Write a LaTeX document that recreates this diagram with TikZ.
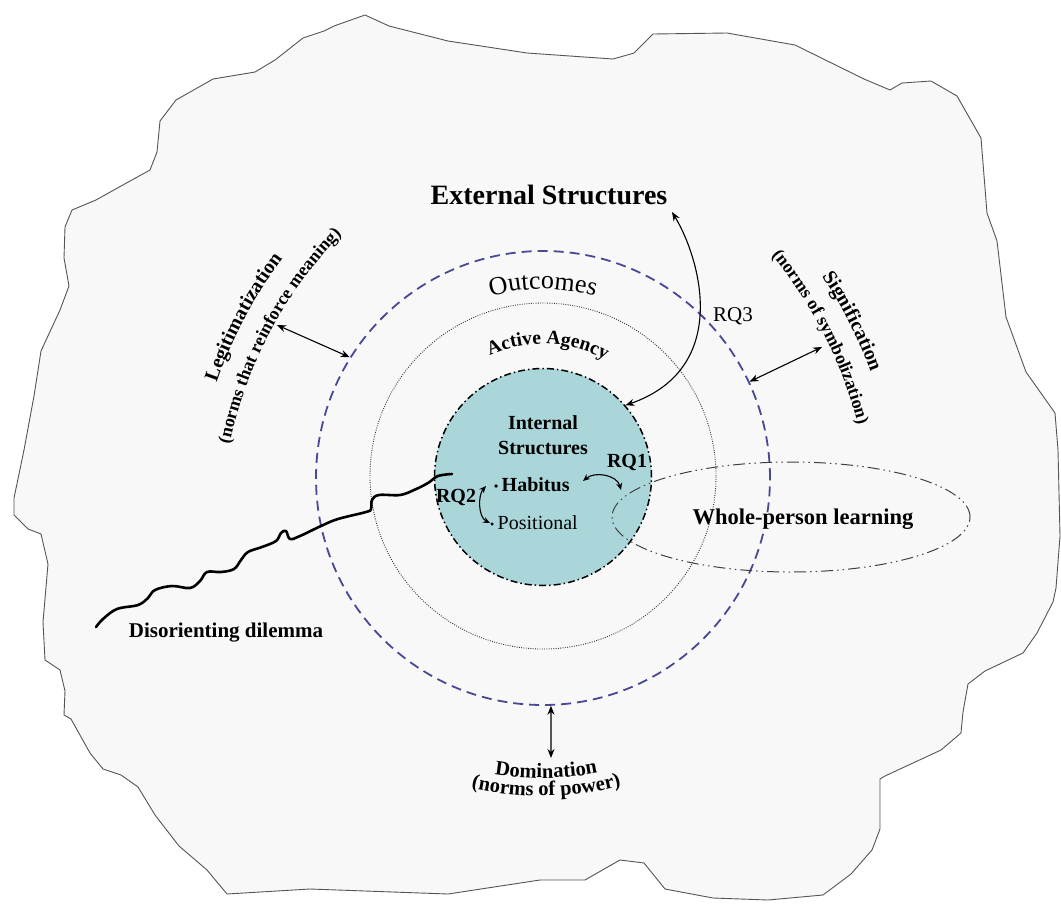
\documentclass[tikz,border=0pt]{standalone}
\usepackage{fontspec}
\setmainfont{Liberation Serif}
\usetikzlibrary{arrows.meta,shapes.geometric,decorations.text}
\definecolor{blobfill}{RGB}{248,248,248}
\definecolor{blobline}{RGB}{85,85,85}
\definecolor{tealfill}{RGB}{170,214,218}
\definecolor{outdash}{RGB}{72,72,150}
\begin{document}
\begin{tikzpicture}[x=1pt,y=-1pt,
  dbl/.style={{Stealth[length=9pt,width=7pt]}-{Stealth[length=9pt,width=7pt]}, line width=1.1pt, black},
  dbls/.style={{Stealth[length=7pt,width=6pt]}-{Stealth[length=7pt,width=6pt]}, line width=1.1pt, black},
  lbl/.style={font=\bfseries\fontsize{20}{25}\selectfont, inner sep=0pt, align=center},
  rlbl/.style={font=\fontsize{20}{25}\selectfont, inner sep=0pt, align=center},
  curved/.style={decorate, decoration={text along path, text align=center, text={#1}}}
]
\useasboundingbox (0,0) rectangle (1061,903);
% outer blob
\draw[blobline, fill=blobfill, line width=0.9pt, line join=round]
 (227,894) -- (207,870) -- (179,846) -- (155,815) -- (138,787) -- (121,775) -- (103,769) -- (90,753) -- (71,719) -- (64,715) -- (65,691) -- (60,670) -- (45,660) -- (43,622) -- (48,564) -- (41,534) -- (28,529) -- (14,515) -- (14,498) -- (24,450) -- (34,396) -- (41,351) -- (60,310) -- (69,286) -- (64,258) -- (65,227) -- (72,210) -- (96,200) -- (121,186) -- (150,170) -- (157,152) -- (160,121) -- (176,100) -- (213,79) -- (255,72) -- (275,60) -- (303,38) -- (324,31) -- (334,26) -- (365,15) -- (389,26) -- (448,41) -- (527,53) -- (613,59) -- (634,53) -- (653,34) -- (727,33) -- (795,45) -- (864,79) -- (890,90) -- (902,83) -- (931,81) -- (957,96) -- (981,138) -- (987,213) -- (997,241) -- (1006,317) -- (1026,372) -- (1055,413) -- (1058,450) -- (1060,536) -- (1056,588) -- (1053,602) -- (1037,633) -- (1023,653) -- (985,671) -- (968,684) -- (963,712) -- (961,733) -- (941,750) -- (885,776) -- (880,779) -- (880,829) -- (872,850) -- (851,874) -- (823,895) -- (768,900) -- (713,898) -- (665,889) -- (644,863) -- (620,860) -- (585,880) -- (540,880) -- (448,894) -- (310,889) -- cycle;
\coordinate (c0) at (543,478);
\coordinate (c1) at (543,476);
\coordinate (cl) at (644,530);
\coordinate (cr) at (442,530);
% circles
\node[circle, draw=outdash, line width=1.8pt, dash pattern=on 10pt off 6pt, minimum size=454pt, inner sep=0pt] (outc) at (543,478) {};
\node[circle, draw=black!80, line width=0.9pt, dash pattern=on 0.9pt off 1.4pt, minimum size=346pt, inner sep=0pt] (agency) at (543,476) {};
\node[circle, fill=tealfill, draw=black, line width=1.5pt, dash pattern=on 7pt off 3pt on 1.5pt off 3pt, minimum size=217pt, inner sep=0pt] (inner) at (543,477) {};
\node[ellipse, draw=black!75, line width=1pt, dash pattern=on 12pt off 4pt on 1.5pt off 4pt on 1.5pt off 4pt, minimum width=358pt, minimum height=110pt, inner sep=0pt] (whole) at (791,517) {};
% disorienting dilemma line
\draw[line width=2.6pt, line cap=round, line join=round] plot[smooth, tension=0.6] coordinates {(96,627) (103,619) (117,609) (138,605) (148,598) (155,590) (172,586) (190,588) (200,581) (207,572) (221,572) (234,569) (241,560) (248,552) (262,547) (276,541) (281,533) (286,531) (290,539) (300,536) (321,526) (338,519) (366,512) (371,509) (372,500) (379,495) (400,495) (414,490) (428,483) (438,476) (452,474)};
% labels
\node[lbl, font=\bfseries\fontsize{28}{32}\selectfont] (ext) at (549,195) {External Structures};
\node[lbl] (intl) at (543,435) {Internal\\Structures};
\node[lbl, anchor=west] (hab) at (494,485) {{\fontsize{12}{12}\selectfont\raisebox{1.5pt}{•}}\,Habitus};
\node[rlbl, anchor=west] (pos) at (490,523) {{\fontsize{12}{12}\selectfont\raisebox{1.5pt}{•}}\,Positional};
\node[lbl] (rq1) at (627,462) {RQ1};
\node[lbl] (rq2) at (456,497) {RQ2};
\node[rlbl, font=\fontsize{21}{25}\selectfont] (rq3) at (733,316) {RQ3};
\node[lbl, font=\bfseries\fontsize{22.5}{26}\selectfont] (wpl) at (803,519) {Whole-person learning};
\node[lbl, font=\bfseries\fontsize{21}{25}\selectfont] (dis) at (226,633) {Disorienting dilemma};
% curved labels
\path[curved={|\fontsize{26}{26}\selectfont|Outcomes}] ([shift={(-130:189)}]c0) arc[start angle=-130, end angle=-50, radius=189];
\path[curved={|\bfseries\fontsize{19.5}{19.5}\selectfont|Active Agency}] ([shift={(-147.8:132)}]c1) arc[start angle=-147.8, end angle=-27.8, radius=132];
\path[curved={|\bfseries\fontsize{20}{20}\selectfont|Legitimatization}] ([shift={(-172:452)}]cl) arc[start angle=-172, end angle=-132, radius=452];
\path[curved={|\bfseries\fontsize{18}{18}\selectfont|(norms that reinforce meaning)}] ([shift={(-182:423)}]cl) arc[start angle=-182, end angle=-122, radius=423];
\path[curved={|\bfseries\fontsize{20}{20}\selectfont|Signification}] ([shift={(-47:457)}]cr) arc[start angle=-47, end angle=-7, radius=457];
\path[curved={|\bfseries\fontsize{18}{18}\selectfont|(norms of symbolization)}] ([shift={(-57:429)}]cr) arc[start angle=-57, end angle=3, radius=429];
\path[curved={|\bfseries\fontsize{20.5}{20.5}\selectfont|Domination}] ([shift={(119.4:300)}]c0) arc[start angle=119.4, end angle=59.4, radius=300];
\path[curved={|\bfseries\fontsize{20.5}{20.5}\selectfont|(norms of power)}] ([shift={(119.4:318)}]c0) arc[start angle=119.4, end angle=59.4, radius=318];
% connectors
\coordinate (rq3a) at (672,212);
\draw[dbl] (rq3a) .. controls (700,258) and (732,368) .. (inner.41);
\coordinate (legt) at (277,325);
\draw[dbl] (legt) -- (outc.148);
\coordinate (sigt) at (822,347);
\draw[dbl] (outc.25.5) -- (sigt);
\coordinate (domt) at (551,758);
\draw[dbl] (outc.-88) -- (domt);
\coordinate (rq1a) at (583,481);
\coordinate (rq1b) at (621,490);
\draw[dbls] (rq1a) .. controls (595,471) and (617,475) .. (rq1b);
\coordinate (rq2a) at (486,486);
\coordinate (rq2b) at (490,523);
\draw[dbls] (rq2a) .. controls (478,495) and (478,517) .. (rq2b);
\end{tikzpicture}
\end{document}
